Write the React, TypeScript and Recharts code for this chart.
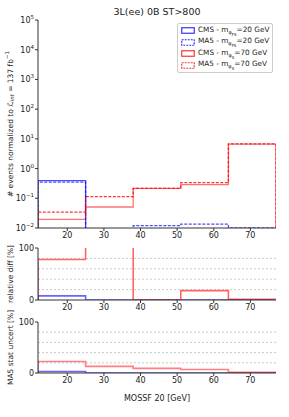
import React from 'react'
import { LineChart, Line, XAxis, YAxis, ReferenceLine } from 'recharts'

// bin edges of MOSSF 20 [GeV]
const edges = [12, 25, 38, 51, 64, 77]
const xTicks = [20, 30, 40, 50, 60, 70]

// main panel: events per bin
const cms20 = [0.39, 0, 0, 0, 0]
const ma520 = [0.35, 0, 0.012, 0.0135, 0.0101]
const cms70 = [0.0195, 0.051, 0.215, 0.29, 6.6]
const ma570 = [0.034, 0.113, 0.215, 0.335, 6.8]
const logTicks = [0.01, 0.1, 1, 10, 100, 1000, 10000, 100000]

// relative diff [%]
const diff20 = [8, 0, 0, 0, 0]
const diff70 = [78, 120, 0, 18, 1.5]

// MA5 stat uncert [%]
const stat20 = [3, 0, 0, 0, 0]
const stat70 = [22.5, 13, 9, 7, 1.2]

const FONT = 'DejaVu Sans'
const FRAME = '#333'

function stepRows(series: Record<string, number[]>, floor: number) {
  const keys = Object.keys(series)
  const rows: any[] = []
  const first: any = { x: edges[0] }
  keys.forEach((k) => (first[k] = floor))
  rows.push(first)
  edges.slice(0, -1).forEach((e, i) => {
    const r: any = { x: e }
    keys.forEach((k) => (r[k] = Math.max(series[k][i], floor)))
    rows.push(r)
  })
  const n = edges.length - 1
  const last: any = { x: edges[n] }
  keys.forEach((k) => (last[k] = Math.max(series[k][n - 1], floor)))
  rows.push(last)
  const end: any = { x: edges[n] }
  keys.forEach((k) => (end[k] = floor))
  rows.push(end)
  return rows
}

const mainRows = stepRows({ cms20, ma520, cms70, ma570 }, 1e-6)
const diffRows = stepRows({ diff20, diff70 }, 0)
const statRows = stepRows({ stat20, stat70 }, 0)

const LogTick = (props: any) => {
  const { x, y, payload } = props
  const exp = Math.round(Math.log10(payload.value))
  return (
    <text x={x} y={y + 3} textAnchor="end" fontSize={8} fill="#222" fontFamily={FONT}>
      10
      <tspan dy={-4} fontSize={5.5}>
        {exp < 0 ? '\u2212' + Math.abs(exp) : exp}
      </tspan>
    </text>
  )
}

const MainYLabel = (props: any) => {
  const cy = props.viewBox ? props.viewBox.y + props.viewBox.height / 2 : 124
  return (
    <text
      x={10}
      y={cy}
      transform={`rotate(-90 10 ${cy})`}
      textAnchor="middle"
      dominantBaseline="central"
      fontSize={7.5}
      fill="#222"
      fontFamily={FONT}
    >
      # events normalized to <tspan fontStyle="italic">ℒ</tspan>
      <tspan dy={2} fontSize={5.5} fontStyle="italic">
        int
      </tspan>
      <tspan dy={-2}> = 137 fb</tspan>
      <tspan dy={-3} fontSize={5.5}>
        {'\u22121'}
      </tspan>
    </text>
  )
}

const sideLabel = (text: string) => (props: any) => {
  const cy = props.viewBox ? props.viewBox.y + props.viewBox.height / 2 : 0
  return (
    <text
      x={10}
      y={cy}
      transform={`rotate(-90 10 ${cy})`}
      textAnchor="middle"
      dominantBaseline="central"
      fontSize={7.5}
      fill="#222"
      fontFamily={FONT}
    >
      {text}
    </text>
  )
}

const tickStyle = { fontSize: 8, fill: '#222', fontFamily: FONT }

function frameAxes(domainY: [number, number]) {
  return [
    <XAxis
      key="top"
      xAxisId="top"
      orientation="top"
      type="number"
      dataKey="x"
      domain={[12, 77]}
      height={0}
      tick={false}
      tickLine={false}
      axisLine={{ stroke: FRAME }}
    />,
    <YAxis
      key="right"
      yAxisId="right"
      orientation="right"
      type="number"
      domain={domainY}
      width={0}
      tick={false}
      tickLine={false}
      axisLine={{ stroke: '#999', strokeWidth: 2.5 }}
    />,
  ]
}

function bottomAxis(label?: boolean) {
  return (
    <XAxis
      type="number"
      dataKey="x"
      domain={[12, 77]}
      ticks={xTicks}
      allowDataOverflow
      height={label ? 30 : 17}
      tickSize={3}
      tickMargin={1}
      tick={tickStyle}
      axisLine={{ stroke: FRAME }}
      tickLine={{ stroke: FRAME }}
      label={
        label
          ? { value: 'MOSSF 20 [GeV]', position: 'insideBottom', offset: 2, fontSize: 8, fill: '#222', fontFamily: FONT }
          : undefined
      }
    />
  )
}

const LegendEntry = ({ color, dashed, name, sub, mass }: any) => (
  <div style={{ display: 'flex', alignItems: 'center', height: 11.5, whiteSpace: 'nowrap' }}>
    <svg width={14} height={7} style={{ marginRight: 3, flexShrink: 0 }}>
      <rect
        x={0.75}
        y={0.75}
        width={12.5}
        height={5.5}
        fill="none"
        stroke={color}
        strokeOpacity={0.8}
        strokeWidth={1.2}
        strokeDasharray={dashed ? '2 1' : undefined}
      />
    </svg>
    <span>
      {name} - m
      <sub style={{ fontSize: 5, verticalAlign: -2 }}>
        φ<sub style={{ fontSize: 4 }}>{sub}</sub>
      </sub>
      ={mass} GeV
    </span>
  </div>
)

export default function App() {
  return (
    <div style={{ position: 'relative', width: 289, height: 417, background: '#fff', fontFamily: FONT }}>
      <style>{'body{margin:0}'}</style>
      <div
        style={{
          position: 'absolute',
          top: 6,
          left: 38,
          width: 238,
          textAlign: 'center',
          fontSize: 9.5,
          color: '#222',
        }}
      >
        3L(ee) 0B ST&gt;800
      </div>

      <div style={{ position: 'absolute', top: 0, left: 0 }}>
        <LineChart width={289} height={245} data={mainRows} margin={{ top: 20, right: 13, left: 0, bottom: 0 }}>
          {bottomAxis()}
          <YAxis
            type="number"
            scale="log"
            domain={[0.01, 100000]}
            ticks={logTicks}
            allowDataOverflow
            width={38}
            tickSize={3}
            tickMargin={1}
            tick={<LogTick />}
            axisLine={{ stroke: FRAME }}
            tickLine={{ stroke: FRAME }}
            label={<MainYLabel />}
          />
          {frameAxes([0.01, 100000])}
          <Line type="stepAfter" dataKey="cms20" stroke="#0000ff" strokeOpacity={0.7} strokeWidth={1.3} dot={false} isAnimationActive={false} />
          <Line type="stepAfter" dataKey="ma520" stroke="#0000ff" strokeOpacity={0.7} strokeWidth={1.3} strokeDasharray="3 1.5" dot={false} isAnimationActive={false} />
          <Line type="stepAfter" dataKey="cms70" stroke="#ff0000" strokeOpacity={0.55} strokeWidth={1.3} dot={false} isAnimationActive={false} />
          <Line type="stepAfter" dataKey="ma570" stroke="#ff0000" strokeOpacity={0.8} strokeWidth={1.3} strokeDasharray="3 1.5" dot={false} isAnimationActive={false} />
        </LineChart>
      </div>

      <div
        style={{
          position: 'absolute',
          top: 23,
          left: 177,
          width: 96,
          height: 50,
          border: '1px solid #ccc',
          borderRadius: 2,
          background: '#fff',
          padding: '1px 0 0 3px',
          boxSizing: 'border-box',
          fontSize: 7.3,
          color: '#222',
        }}
      >
        <LegendEntry color="#0000ff" name="CMS" sub="FS" mass={20} />
        <LegendEntry color="#0000ff" dashed name="MA5" sub="FS" mass={20} />
        <LegendEntry color="#ff0000" name="CMS" sub="S" mass={70} />
        <LegendEntry color="#ff0000" dashed name="MA5" sub="S" mass={70} />
      </div>

      <div style={{ position: 'absolute', top: 236, left: 0 }}>
        <LineChart width={289} height={81} data={diffRows} margin={{ top: 12, right: 13, left: 0, bottom: 0 }}>
          {bottomAxis()}
          <YAxis
            type="number"
            domain={[0, 100]}
            ticks={[0, 100]}
            allowDataOverflow
            width={38}
            tickSize={3}
            tickMargin={1}
            tick={tickStyle}
            axisLine={{ stroke: FRAME }}
            tickLine={{ stroke: FRAME }}
            label={sideLabel('relative diff [%]')}
          />
          {frameAxes([0, 100])}
          {[20, 40, 60, 80].map((v) => (
            <ReferenceLine key={v} y={v} stroke="#bbb" strokeDasharray="2 2" strokeWidth={0.8} />
          ))}
          <Line type="stepAfter" dataKey="diff20" stroke="#0000ff" strokeOpacity={0.6} strokeWidth={1.6} dot={false} isAnimationActive={false} />
          <Line type="stepAfter" dataKey="diff70" stroke="#ff0000" strokeOpacity={0.6} strokeWidth={1.6} dot={false} isAnimationActive={false} />
        </LineChart>
      </div>

      <div style={{ position: 'absolute', top: 300, left: 0 }}>
        <LineChart width={289} height={103} data={statRows} margin={{ top: 22, right: 13, left: 0, bottom: 0 }}>
          {bottomAxis(true)}
          <YAxis
            type="number"
            domain={[0, 100]}
            ticks={[0, 100]}
            allowDataOverflow
            width={38}
            tickSize={3}
            tickMargin={1}
            tick={tickStyle}
            axisLine={{ stroke: FRAME }}
            tickLine={{ stroke: FRAME }}
            label={sideLabel('MA5 stat uncert [%]')}
          />
          {frameAxes([0, 100])}
          {[20, 40, 60, 80].map((v) => (
            <ReferenceLine key={v} y={v} stroke="#bbb" strokeDasharray="2 2" strokeWidth={0.8} />
          ))}
          <Line type="stepAfter" dataKey="stat20" stroke="#0000ff" strokeOpacity={0.6} strokeWidth={1.6} dot={false} isAnimationActive={false} />
          <Line type="stepAfter" dataKey="stat70" stroke="#ff0000" strokeOpacity={0.5} strokeWidth={1.6} dot={false} isAnimationActive={false} />
        </LineChart>
      </div>
    </div>
  )
}
